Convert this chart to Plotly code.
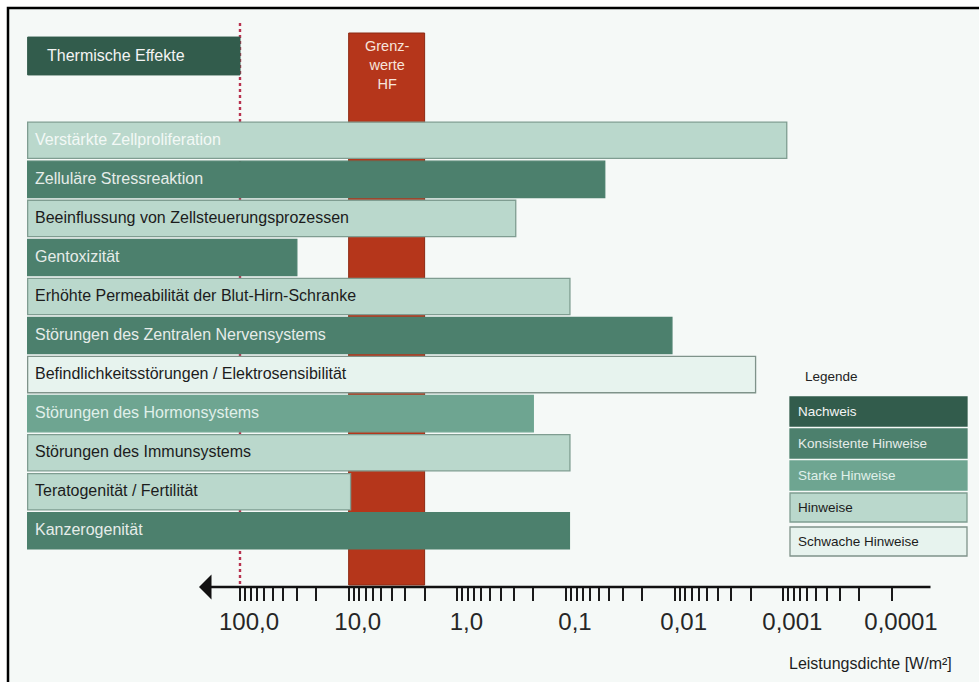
import math
import plotly.graph_objects as go

# ---------------- data ----------------
labels = [
    "Verstärkte Zellproliferation",
    "Zelluläre Stressreaktion",
    "Beeinflussung von Zellsteuerungsprozessen",
    "Gentoxizität",
    "Erhöhte Permeabilität der Blut-Hirn-Schranke",
    "Störungen des Zentralen Nervensystems",
    "Befindlichkeitsstörungen / Elektrosensibilität",
    "Störungen des Hormonsystems",
    "Störungen des Immunsystems",
    "Teratogenität / Fertilität",
    "Kanzerogenität",
]
levels = [
    "Hinweise",
    "Konsistente Hinweise",
    "Hinweise",
    "Konsistente Hinweise",
    "Hinweise",
    "Konsistente Hinweise",
    "Schwache Hinweise",
    "Starke Hinweise",
    "Hinweise",
    "Hinweise",
    "Konsistente Hinweise",
]
# power density (W/m²) down to which an effect is reported
end_values = [0.00093, 0.044, 0.29, 30.0, 0.092, 0.0106, 0.0018, 0.2, 0.092, 9.6, 0.093]
bar_start = 9000.0

thermal_label = "Thermische Effekte"
thermal_level = "Nachweis"
thermal_end = 100.0

limit_label = "Grenz-<br>werte<br>HF"
limit_high = 10.0
limit_low = 2.0

legend_title = "Legende"
legend_levels = ["Nachweis", "Konsistente Hinweise", "Starke Hinweise", "Hinweise", "Schwache Hinweise"]

major_ticks = [100, 10, 1, 0.1, 0.01, 0.001, 0.0001]
major_text = ["100,0", "10,0", "1,0", "0,1", "0,01", "0,001", "0,0001"]
axis_title = "Leistungsdichte [W/m²]"

# ---------------- styles ----------------
FONT = "Liberation Sans, Arial, Helvetica, sans-serif"
fill = {
    "Nachweis": "#325c4c",
    "Konsistente Hinweise": "#4c806d",
    "Starke Hinweise": "#6ea591",
    "Hinweise": "#bad8cc",
    "Schwache Hinweise": "#e7f3ee",
}
edge = {
    "Nachweis": "#325c4c",
    "Konsistente Hinweise": "#4c806d",
    "Starke Hinweise": "#6ea591",
    "Hinweise": "#7f9d91",
    "Schwache Hinweise": "#7f938a",
}
txtc = {
    "Nachweis": "#f4f4f4",
    "Konsistente Hinweise": "#e6ece9",
    "Starke Hinweise": "#e0f0ea",
    "Hinweise": "#1c1c1c",
    "Schwache Hinweise": "#1c1c1c",
}
text_override = {"Verstärkte Zellproliferation": "#f3f8f6"}

# ---------------- geometry (pixels) ----------------
W, H = 979, 682
PL, PR, PT, PB = 27, 965, 20, 587
PX_100, PX_0001 = 240, 892
ppd = (PX_0001 - PX_100) / 6.0
x_left = 2 + (PX_100 - PL) / ppd
x_right = -4 - (PR - PX_0001) / ppd
ROW0, STEP = 140.3, 39.05


def rowy(py):
    return (py - ROW0) / STEP


y_top, y_bot = rowy(PT), rowy(PB)
thermal_row = rowy(56)


def fx(px):
    return (px - PL) / (PR - PL)


def fy(py):
    return (PB - py) / (PB - PT)


rows = list(range(len(labels)))

fig = go.Figure()

# thermal bar
fig.add_trace(go.Bar(
    orientation="h", y=[thermal_row], x=[thermal_end - bar_start], base=[bar_start],
    width=[0.97], marker=dict(color=fill[thermal_level], line=dict(color=edge[thermal_level], width=1)),
    hoverinfo="skip",
))
# effect bars
fig.add_trace(go.Bar(
    orientation="h", y=rows, x=[e - bar_start for e in end_values], base=[bar_start] * len(rows),
    width=[0.93] * len(rows),
    marker=dict(color=[fill[l] for l in levels],
                line=dict(color=[edge[l] for l in levels], width=1.3)),
    hoverinfo="skip",
))
# invisible trace for the tick axis
fig.add_trace(go.Scatter(x=[major_ticks[0], major_ticks[-1]], y=[rows[-1], rows[-1]],
                         xaxis="x2", yaxis="y", mode="markers", marker=dict(opacity=0),
                         hoverinfo="skip"))

shapes = [
    # frame / background
    dict(type="rect", xref="paper", yref="paper", x0=fx(8), x1=fx(995), y0=fy(700), y1=fy(8),
         fillcolor="#f5f9f7", line=dict(color="#000000", width=2.5), layer="below"),
    # limit band (Grenzwerte HF), behind the bars
    dict(type="rect", xref="x", yref="y", x0=limit_high, x1=limit_low,
         y0=rowy(33), y1=rowy(585), fillcolor="#b5361b",
         line=dict(color="#8c2a14", width=1), layer="below"),
    # dotted line at thermal threshold
    dict(type="line", xref="x", yref="y", x0=thermal_end, x1=thermal_end,
         y0=rowy(23), y1=rowy(585), line=dict(color="#b8324f", width=2.4, dash="dot"),
         layer="below"),
]

annotations = []
# bar labels
annotations.append(dict(xref="paper", x=0, xshift=18, yref="y", y=thermal_row, yshift=1,
                        text=thermal_label, showarrow=False, xanchor="left", yanchor="middle",
                        font=dict(family=FONT, size=16, color=txtc[thermal_level])))
for r, lab, lev in zip(rows, labels, levels):
    annotations.append(dict(xref="paper", x=0, xshift=6, yref="y", y=r, yshift=1,
                            text=lab, showarrow=False, xanchor="left", yanchor="middle",
                            font=dict(family=FONT, size=16, color=text_override.get(lab, txtc[lev]))))
# limit label
annotations.append(dict(xref="x", x=(math.log10(limit_high) + math.log10(limit_low)) / 2,
                        yref="y", y=rowy(65), text=limit_label, showarrow=False,
                        xanchor="center", yanchor="middle",
                        font=dict(family=FONT, size=14.5, color="#f7e4dc")))
# axis line with arrow
annotations.append(dict(xref="paper", x=fx(199), yref="paper", y=0, axref="pixel", ayref="pixel",
                        ax=932 - 199, ay=0, text="", showarrow=True, arrowhead=1,
                        arrowsize=1.6, arrowwidth=2.6, arrowcolor="#111111", standoff=0))
# axis title
annotations.append(dict(xref="paper", x=fx(954), yref="paper", y=fy(663), xanchor="right",
                        yanchor="middle", text=axis_title, showarrow=False,
                        font=dict(family=FONT, size=16, color="#1e1e1e")))
# legend
annotations.append(dict(xref="paper", x=fx(803), yref="paper", y=fy(376), xanchor="left",
                        yanchor="middle", text=legend_title, showarrow=False,
                        font=dict(family=FONT, size=13.5, color="#222222")))

box_tops = [397, 429, 461, 493, 527]
for top, lev in zip(box_tops, legend_levels):
    shapes.append(dict(type="rect", xref="paper", yref="paper", x0=fx(790), x1=fx(967),
                       y0=fy(top + 29), y1=fy(top), fillcolor=fill[lev],
                       line=dict(color=edge[lev], width=1.3)))
    annotations.append(dict(xref="paper", x=fx(796), yref="paper", y=fy(top + 14.5), xanchor="left",
                            yanchor="middle", text=lev, showarrow=False,
                            font=dict(family=FONT, size=13.5, color=txtc[lev])))

# ticks
tick_vals, tick_text = [], []
for v, t in zip(major_ticks, major_text):
    tick_vals.append(v)
    tick_text.append(t)
for d in major_ticks[1:]:
    for k in range(2, 10):
        tick_vals.append(k * d)
        tick_text.append("")

fig.update_layout(
    width=W, height=H,
    margin=dict(l=PL, r=W - PR, t=PT, b=H - PB, pad=0, autoexpand=False),
    paper_bgcolor="#ffffff", plot_bgcolor="rgba(0,0,0,0)",
    showlegend=False, barmode="overlay",
    xaxis=dict(type="log", range=[x_left, x_right], showticklabels=False, ticks="",
               showgrid=False, zeroline=False, showline=False, automargin=False),
    xaxis2=dict(type="log", range=[2, -4], domain=[fx(PX_100), fx(PX_0001)], anchor="y",
                tickvals=tick_vals, ticktext=tick_text, ticks="outside", ticklen=13,
                tickwidth=1.6, tickcolor="#1a1a1a", showgrid=False, zeroline=False,
                showline=False, ticklabelshift=-9, automargin=False,
                tickfont=dict(family=FONT, size=24, color="#262626")),
    yaxis=dict(range=[y_bot, y_top], showticklabels=False, ticks="", showgrid=False,
               zeroline=False, showline=False, automargin=False),
    shapes=shapes, annotations=annotations,
    font=dict(family=FONT),
)

fig.write_html("out.html", config={"displayModeBar": False},
               post_script="document.body.style.margin='0px';")
